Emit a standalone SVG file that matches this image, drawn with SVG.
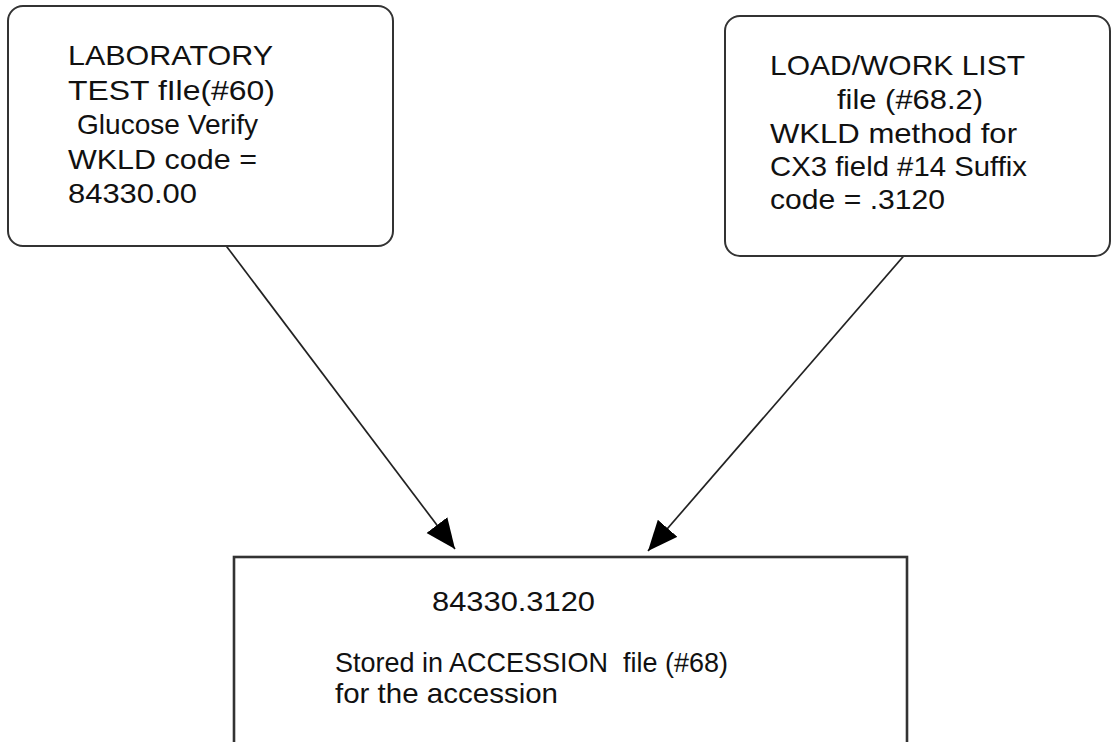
<svg xmlns="http://www.w3.org/2000/svg" width="1112" height="742" viewBox="0 0 1112 742">
<style>
.box{fill:#fff;stroke:#333;stroke-width:2}
.t{font-family:"Liberation Sans",Arial,sans-serif;font-size:28px;fill:#111}
.edge{stroke:#222;stroke-width:1.7;fill:none}
</style>
<defs>
<marker id="ah" markerUnits="userSpaceOnUse" markerWidth="34" markerHeight="28" refX="30" refY="13" orient="auto">
<path d="M0,0 L30,13 L0,26 Z" fill="#000"/>
</marker>
</defs>
<rect width="1112" height="742" fill="#fff"/>
<g id="connectors">
<line class="edge" x1="224" y1="243" x2="455" y2="549" marker-end="url(#ah)"/>
<line class="edge" x1="908" y1="251" x2="648" y2="551" marker-end="url(#ah)"/>
</g>
<g id="node-lab-test">
<rect class="box" x="8" y="6" width="385" height="240" rx="15"/>
<text class="t" x="68" y="65" textLength="205" lengthAdjust="spacingAndGlyphs">LABORATORY</text>
<text class="t" x="68" y="99.5" textLength="207" lengthAdjust="spacingAndGlyphs">TEST fIle(#60)</text>
<text class="t" x="77" y="134" textLength="181" lengthAdjust="spacingAndGlyphs">Glucose Verify</text>
<text class="t" x="68" y="168.5" textLength="189" lengthAdjust="spacingAndGlyphs">WKLD code =</text>
<text class="t" x="68" y="203" textLength="129" lengthAdjust="spacingAndGlyphs">84330.00</text>
</g>
<g id="node-worklist">
<rect class="box" x="725" y="16" width="385" height="240" rx="15"/>
<text class="t" x="770" y="75" textLength="255" lengthAdjust="spacingAndGlyphs">LOAD/WORK LIST</text>
<text class="t" x="837" y="109" textLength="146" lengthAdjust="spacingAndGlyphs">file (#68.2)</text>
<text class="t" x="770" y="143" textLength="247" lengthAdjust="spacingAndGlyphs">WKLD method for</text>
<text class="t" x="770" y="176" textLength="257" lengthAdjust="spacingAndGlyphs">CX3 field #14 Suffix</text>
<text class="t" x="770" y="209" textLength="175" lengthAdjust="spacingAndGlyphs">code = .3120</text>
</g>
<g id="node-accession">
<rect class="box" x="234" y="557" width="673" height="200" style="stroke-width:2.6"/>
<text class="t" x="432" y="611" textLength="163" lengthAdjust="spacingAndGlyphs">84330.3120</text>
<text class="t" x="335" y="672" textLength="393" lengthAdjust="spacingAndGlyphs" xml:space="preserve">Stored in ACCESSION  file (#68)</text>
<text class="t" x="335" y="703" textLength="223" lengthAdjust="spacingAndGlyphs">for the accession</text>
</g>
</svg>
